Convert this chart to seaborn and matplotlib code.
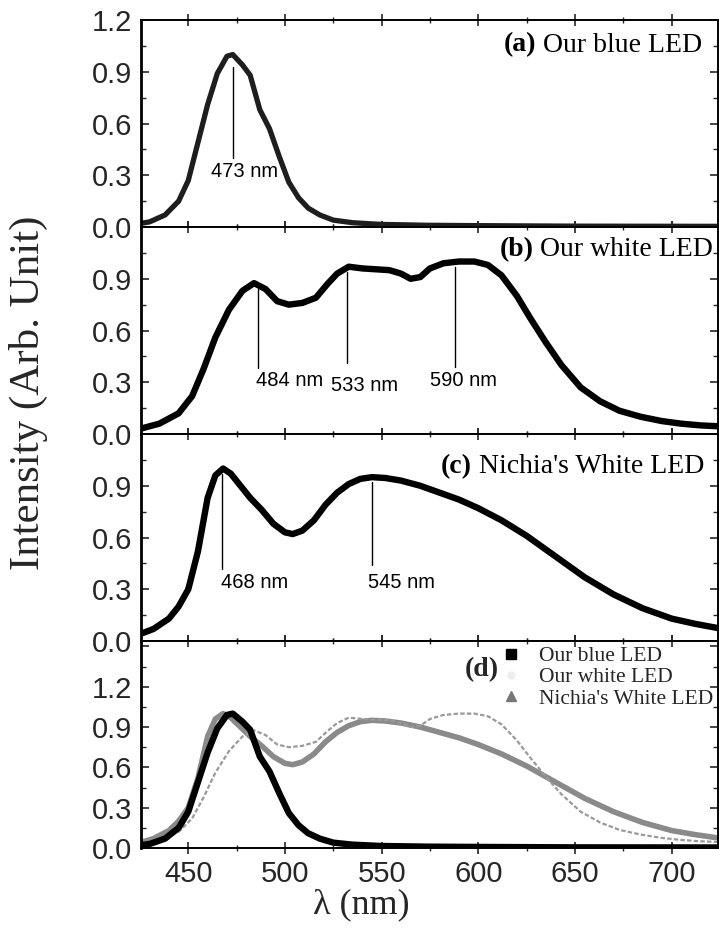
import numpy as np
import pandas as pd
import seaborn as sns
import matplotlib
matplotlib.use("Agg")
import matplotlib.pyplot as plt
from matplotlib.lines import Line2D
from matplotlib.ticker import MultipleLocator

# ---------------- data ----------------
wl_blue = [425, 430, 438, 445, 450, 455, 460, 465, 470, 473, 478, 482, 487, 492,
           497, 502, 507, 512, 518, 525, 535, 550, 575, 600, 650, 724]
int_blue = [0.02, 0.03, 0.07, 0.15, 0.27, 0.49, 0.71, 0.89, 0.99, 1.0, 0.94, 0.88,
            0.68, 0.57, 0.41, 0.26, 0.17, 0.11, 0.07, 0.04, 0.025, 0.015, 0.01,
            0.008, 0.005, 0.004]

wl_white = [425, 435, 445, 452, 458, 464, 471, 478, 484, 490, 496, 502, 509, 516,
            522, 527, 533, 540, 547, 554, 560, 565, 570, 575, 582, 590, 598, 605,
            612, 620, 627, 635, 643, 653, 663, 673, 684, 695, 705, 715, 724]
int_white = [0.03, 0.06, 0.12, 0.22, 0.38, 0.56, 0.72, 0.83, 0.875, 0.84, 0.77,
             0.75, 0.76, 0.79, 0.87, 0.93, 0.97, 0.96, 0.955, 0.95, 0.93, 0.90,
             0.91, 0.96, 0.99, 1.0, 1.0, 0.98, 0.92, 0.80, 0.67, 0.53, 0.40,
             0.27, 0.19, 0.135, 0.10, 0.075, 0.06, 0.05, 0.045]

wl_nichia = [425, 432, 440, 445, 450, 455, 460, 464, 468, 472, 477, 482, 488, 494,
             500, 504, 509, 515, 521, 527, 533, 539, 545, 552, 560, 570, 580, 590,
             600, 612, 625, 640, 655, 670, 685, 700, 712, 724]
int_nichia = [0.04, 0.07, 0.13, 0.20, 0.30, 0.52, 0.83, 0.96, 1.0, 0.97, 0.90,
              0.83, 0.76, 0.68, 0.63, 0.62, 0.64, 0.70, 0.79, 0.86, 0.91, 0.94,
              0.95, 0.945, 0.93, 0.90, 0.86, 0.82, 0.77, 0.70, 0.61, 0.49, 0.37,
              0.27, 0.19, 0.13, 0.10, 0.075]

panel_titles = ["(a)", "(b)", "(c)", "(d)"]
panel_names = [" Our blue LED", " Our white LED", " Nichia's White LED"]
legend_labels = ["Our blue LED", "Our white LED", "Nichia's White LED"]
x_ticks = [450, 500, 550, 600, 650, 700]

# ---------------- style ----------------
sns.set_theme(style="ticks")
plt.rcParams["font.family"] = ["Liberation Sans", "DejaVu Sans"]
plt.rcParams["axes.linewidth"] = 1.4
SERIF = ["Liberation Serif", "DejaVu Serif"]
SANS = ["Liberation Sans", "DejaVu Sans"]

fig, axes = plt.subplots(4, 1, sharex=True, figsize=(7.19, 9.36), dpi=100,
                         gridspec_kw=dict(hspace=0))
fig.subplots_adjust(left=0.196, right=0.9986, top=0.9786, bottom=0.094)

def style_axis(ax, ymax, hide_above=None):
    ax.set_xlim(425.5, 724)
    ax.set_ylim(0, ymax)
    ax.xaxis.set_major_locator(MultipleLocator(50))
    ax.xaxis.set_minor_locator(MultipleLocator(25))
    ax.yaxis.set_major_locator(MultipleLocator(0.3))
    ax.yaxis.set_minor_locator(MultipleLocator(0.15))
    ax.tick_params(axis="x", which="major", direction="inout", length=9, width=1.2,
                   top=True, labelsize=21, pad=4)
    ax.tick_params(axis="x", which="minor", direction="inout", length=5, width=1.0,
                   top=True)
    ax.tick_params(axis="y", which="major", direction="in", length=6, width=1.2,
                   right=True, labelsize=21, pad=6)
    ax.tick_params(axis="y", which="minor", direction="in", length=3.5, width=1.0,
                   right=True)
    ax.set_xlabel("")
    ax.set_ylabel("")
    ax.yaxis.set_major_formatter(matplotlib.ticker.FuncFormatter(
        lambda v, p: "" if (hide_above is not None and v > hide_above) else f"{v:.1f}"))
    for s in ["top", "right", "bottom", "left"]:
        ax.spines[s].set_visible(True)
        ax.spines[s].set_color("black")
    ax.spines["left"].set_linewidth(2.0)

def peak_marks(ax, items):
    for (xl, y0, y1, tx, ty, label) in items:
        ax.plot([xl, xl], [y0, y1], color="black", lw=1.0)
        ax.text(tx, ty, label, ha="left", va="center", fontsize=14.5,
                family=SANS, color="black")

def panel_label(ax, x, y, tag, name, size=20):
    t = ax.text(x, y, name, ha="right", va="center", fontsize=size,
                family=SERIF, color="black", clip_on=False)
    ax.annotate(tag, xy=(0, 0), xycoords=t, ha="right", va="bottom",
                fontsize=size, family=SERIF, fontweight="bold", color="black",
                annotation_clip=False)

# (a)
ax = axes[0]
sns.lineplot(x=wl_blue, y=int_blue, ax=ax, color="#1e1e1e", lw=3.8, sort=False,
             estimator=None)
style_axis(ax, 1.2)
peak_marks(ax, [(473, 0.40, 0.93, 462, 0.32, "473 nm")])
panel_label(ax, 716, 1.055, panel_titles[0], panel_names[0])

# (b)
ax = axes[1]
sns.lineplot(x=wl_white, y=int_white, ax=ax, color="black", lw=4.6, sort=False,
             estimator=None)
style_axis(ax, 1.2, hide_above=1.15)
peak_marks(ax, [(486, 0.38, 0.84, 485, 0.31, "484 nm"),
                (532, 0.41, 0.94, 524, 0.28, "533 nm"),
                (588, 0.39, 0.97, 575, 0.31, "590 nm")])
panel_label(ax, 721.5, 1.07, panel_titles[1], panel_names[1])

# (c)
ax = axes[2]
sns.lineplot(x=wl_nichia, y=int_nichia, ax=ax, color="black", lw=4.6, sort=False,
             estimator=None)
style_axis(ax, 1.2, hide_above=1.15)
peak_marks(ax, [(467.5, 0.42, 0.97, 467, 0.34, "468 nm"),
                (545, 0.44, 0.92, 543, 0.34, "545 nm")])
panel_label(ax, 717, 1.01, panel_titles[2], panel_names[2])

# (d)
ax = axes[3]
sns.lineplot(x=wl_nichia, y=int_nichia, ax=ax, color="#8a8a8a", lw=4.0,
             sort=False, estimator=None)
sns.lineplot(x=wl_white, y=int_white, ax=ax, color="#9a9a9a", lw=1.6,
             linestyle=(0, (2, 1)), sort=False, estimator=None)
sns.lineplot(x=wl_blue, y=int_blue, ax=ax, color="black", lw=4.6, sort=False,
             estimator=None)
style_axis(ax, 1.54, hide_above=1.35)
ax.set_xticks(x_ticks)
ax.text(602, 1.33, panel_titles[3], ha="center", va="center", fontsize=20,
        family=SERIF, fontweight="bold")
handles = [Line2D([], [], marker="s", color="black", linestyle="none", markersize=7),
           Line2D([], [], marker="o", color="#eeeeee", linestyle="none", markersize=5),
           Line2D([], [], marker="^", color="#777777", linestyle="none", markersize=7)]
leg = ax.legend(handles, legend_labels, loc="upper left",
                bbox_to_anchor=(0.622, 0.975), frameon=False, handlelength=1.0,
                handletextpad=0.8, labelspacing=0.05, borderpad=0.0,
                borderaxespad=0.0,
                prop=dict(family=SERIF, size=15.5))

fig.text(0.039, 0.58, "Intensity (Arb. Unit)", rotation=90, ha="center",
         va="center", fontsize=31, family=SERIF)
fig.text(0.503, 0.033, "λ (nm)", ha="center", va="center", fontsize=26,
         family=SERIF)

fig.savefig("out.png", dpi=100)
